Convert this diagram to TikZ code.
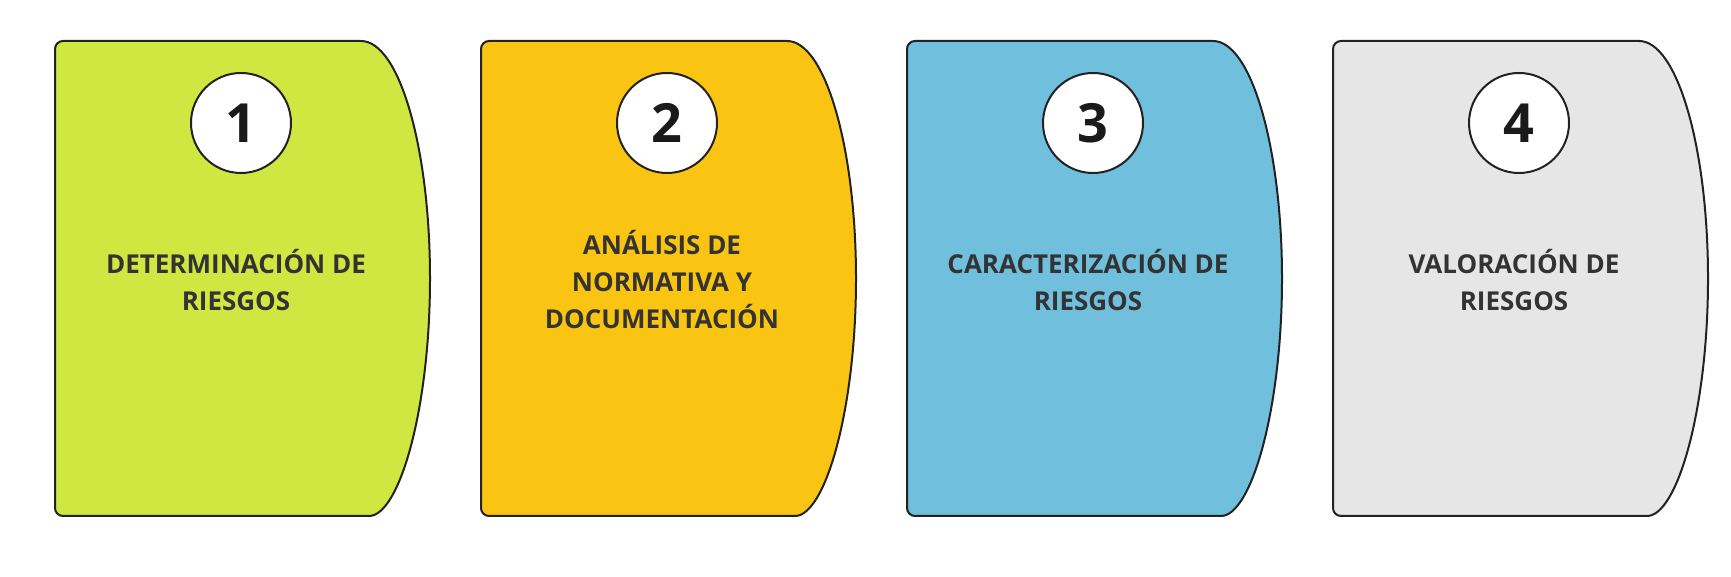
\documentclass[tikz,border=0pt]{standalone}
\usepackage{fontspec}
\setmainfont{Open Sans}
\usepackage{tikz}
\usetikzlibrary{positioning}
\definecolor{cardgreen}{HTML}{CFE741}
\definecolor{cardyellow}{HTML}{F9C512}
\definecolor{cardblue}{HTML}{70BFDC}
\definecolor{cardgray}{HTML}{E6E6E6}
\definecolor{textdark}{HTML}{333333}
\definecolor{numdark}{HTML}{1A1A1A}
\definecolor{linedark}{HTML}{222222}
\tikzset{
card/.style={draw=linedark, line width=2pt},
numcircle/.style={
  circle, draw=linedark, line width=2pt, fill=white,
  minimum size=100pt, inner sep=0pt,
  text=numdark, font=\fontsize{54}{54}\selectfont\bfseries
},
cardlabel/.style={
  align=center, text=textdark,
  font=\fontsize{26}{37}\selectfont\bfseries
},
}

\begin{document}
\begin{tikzpicture}[x=1pt,y=1pt]
    \useasboundingbox (0,0) rectangle (1731,577);
    \foreach \i/\col/\txt in {
        1/cardgreen/{DETERMINACIÓN DE\\RIESGOS},
        2/cardyellow/{ANÁLISIS DE\\NORMATIVA Y\\DOCUMENTACIÓN},
        3/cardblue/{CARACTERIZACIÓN DE\\RIESGOS},
        4/cardgray/{VALORACIÓN DE\\RIESGOS}}{
        \pgfmathsetmacro{\x}{55+(\i-1)*426}
        % card with curved right side
        \draw[card, fill=\col] (\x+150,536)
            {[rounded corners=8pt] -- (\x,536) -- (\x,61) -- (\x+306,61)}
            arc[start angle=-90, end angle=90, x radius=69pt, y radius=237.5pt]
            -- cycle;
        \node[numcircle] (num\i) at (\x+186,454) {\i};
        \node[cardlabel] (lbl\i) at (\x+181,297) {\txt};
    }
\end{tikzpicture}
\end{document}
